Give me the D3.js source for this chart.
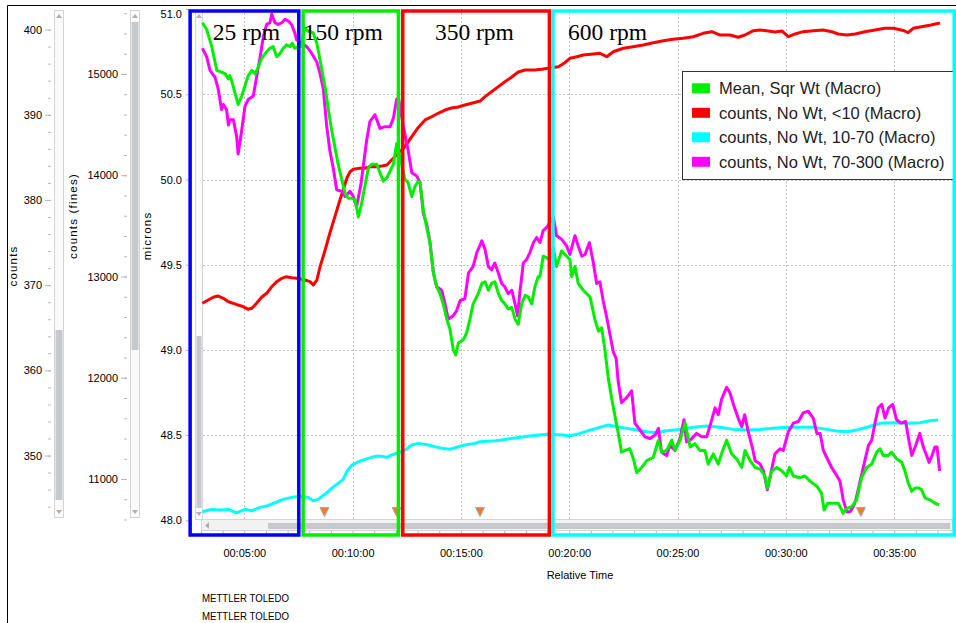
<!DOCTYPE html>
<html>
<head>
<meta charset="utf-8">
<script src="https://cdn.jsdelivr.net/npm/d3@7"></script>
<style>
  body { margin: 0; background: #fff; }
  svg { display: block; font-family: "Liberation Sans", Arial, sans-serif; }
  .axis text { font-size: 11px; fill: #000; }
  .axis line { stroke: #b8b8b8; }
  .axis path { display: none; }
</style>
</head>
<body>
<div id="chart"></div>
<script>
// time in seconds
const meanSqrWt = [[184,50.92],[196,50.88],[210,50.78],[224,50.64],[237,50.63],[247,50.62],[256,50.59],[260,50.61],[265,50.58],[274,50.51],[283,50.44],[293,50.49],[302,50.55],[311,50.61],[321,50.64],[330,50.62],[339,50.66],[348,50.71],[362,50.75],[371,50.77],[380,50.78],[390,50.72],[399,50.74],[408,50.77],[417,50.79],[427,50.78],[433,50.80],[440,50.77],[450,50.78],[457,50.78],[467,50.89],[477,50.87],[491,50.86],[501,50.80],[510,50.70],[524,50.54],[533,50.41],[542,50.29],[551,50.19],[560,50.09],[570,50.00],[579,49.92],[588,49.89],[598,49.89],[607,49.88],[616,49.78],[625,49.86],[634,49.96],[644,50.07],[653,50.09],[667,50.09],[676,50.04],[685,49.99],[695,50.01],[704,50.05],[713,50.09],[722,50.21],[734,50.11],[745,50.00],[754,49.98],[764,49.90],[773,49.96],[782,49.99],[787,49.98],[796,49.82],[805,49.72],[814,49.63],[824,49.45],[833,49.37],[842,49.33],[851,49.27],[861,49.18],[870,49.12],[879,49.00],[886,48.97],[893,49.04],[907,49.06],[916,49.10],[925,49.18],[934,49.27],[948,49.33],[958,49.39],[967,49.40],[976,49.35],[985,49.39],[994,49.40],[1004,49.33],[1013,49.29],[1022,49.27],[1031,49.24],[1041,49.25],[1050,49.18],[1059,49.15],[1068,49.27],[1078,49.32],[1087,49.31],[1096,49.27],[1105,49.37],[1114,49.43],[1119,49.43],[1128,49.55],[1138,49.54],[1147,49.53],[1156,49.60],[1165,49.49],[1179,49.58],[1193,49.55],[1202,49.53],[1207,49.43],[1216,49.49],[1225,49.39],[1239,49.35],[1258,49.31],[1271,49.18],[1281,49.11],[1290,49.13],[1299,49.00],[1308,48.84],[1318,48.71],[1327,48.61],[1336,48.51],[1345,48.40],[1355,48.41],[1368,48.42],[1378,48.36],[1387,48.28],[1401,48.31],[1415,48.35],[1433,48.37],[1447,48.47],[1456,48.40],[1470,48.41],[1484,48.47],[1493,48.41],[1507,48.47],[1521,48.57],[1535,48.43],[1548,48.45],[1562,48.41],[1576,48.41],[1585,48.33],[1599,48.39],[1613,48.33],[1622,48.39],[1636,48.47],[1650,48.39],[1664,48.36],[1678,48.31],[1687,48.41],[1701,48.35],[1715,48.31],[1729,48.30],[1742,48.26],[1749,48.19],[1761,48.29],[1775,48.31],[1789,48.29],[1802,48.26],[1810,48.31],[1821,48.26],[1839,48.25],[1853,48.26],[1867,48.23],[1886,48.20],[1899,48.16],[1906,48.06],[1916,48.10],[1932,48.10],[1945,48.10],[1955,48.06],[1959,48.04],[1969,48.07],[1983,48.08],[1996,48.12],[2010,48.25],[2024,48.31],[2038,48.33],[2052,48.40],[2061,48.42],[2070,48.38],[2084,48.38],[2093,48.40],[2107,48.36],[2121,48.34],[2130,48.29],[2139,48.22],[2149,48.17],[2158,48.19],[2167,48.19],[2176,48.18],[2186,48.13],[2199,48.12],[2213,48.10],[2225,48.09]];

const countsUnder10 = [[184,12735],[200,12768],[214,12795],[228,12807],[242,12785],[256,12751],[270,12735],[283,12718],[297,12702],[311,12676],[321,12686],[334,12735],[348,12795],[362,12834],[376,12899],[390,12949],[404,12982],[417,12998],[431,12988],[445,12982],[468,12965],[482,12949],[491,12916],[501,12965],[510,13097],[524,13262],[537,13427],[551,13591],[565,13756],[574,13854],[584,13970],[593,14035],[602,14059],[620,14069],[634,14069],[648,14084],[667,14084],[681,14091],[695,14101],[708,14151],[727,14217],[740,14266],[745,14282],[764,14381],[782,14472],[801,14546],[819,14578],[837,14612],[856,14644],[874,14664],[893,14674],[911,14694],[930,14711],[953,14733],[967,14776],[985,14825],[1004,14875],[1022,14924],[1041,14970],[1059,15020],[1078,15040],[1105,15040],[1124,15046],[1142,15056],[1170,15072],[1188,15112],[1202,15155],[1221,15171],[1239,15188],[1267,15198],[1285,15205],[1304,15171],[1322,15220],[1350,15254],[1377,15270],[1405,15286],[1433,15309],[1461,15329],[1488,15343],[1516,15353],[1544,15368],[1571,15402],[1595,15418],[1618,15385],[1645,15385],[1668,15363],[1687,15385],[1710,15428],[1729,15435],[1752,15425],[1770,15415],[1789,15425],[1807,15368],[1821,15390],[1848,15418],[1876,15428],[1904,15435],[1927,15418],[1945,15395],[1969,15385],[1992,15395],[2019,15418],[2047,15435],[2075,15451],[2098,15451],[2125,15430],[2139,15408],[2153,15451],[2176,15467],[2202,15484],[2227,15504]];

const counts10to70 = [[184,343.40],[210,343.68],[233,343.60],[256,343.68],[279,343.28],[302,343.68],[321,343.52],[344,343.92],[362,344.07],[385,344.46],[408,344.86],[431,345.09],[445,345.16],[459,345.24],[477,345.09],[491,344.69],[505,344.86],[524,345.48],[542,346.15],[560,346.74],[574,347.20],[584,348.10],[598,348.88],[616,349.27],[634,349.55],[653,349.79],[671,349.94],[695,349.79],[708,350.06],[727,350.33],[745,350.64],[764,351.23],[782,351.43],[810,351.23],[828,351.03],[851,350.84],[870,350.73],[893,351.03],[911,351.23],[939,351.43],[953,351.62],[999,351.74],[1045,352.02],[1091,352.29],[1138,352.49],[1184,352.40],[1202,352.29],[1230,352.60],[1258,352.99],[1285,353.31],[1308,353.58],[1332,353.38],[1359,353.19],[1387,352.99],[1415,352.79],[1442,352.67],[1470,352.91],[1507,353.07],[1544,353.31],[1581,353.46],[1618,353.31],[1655,353.07],[1692,352.99],[1729,353.07],[1766,353.19],[1802,353.31],[1839,353.31],[1876,353.31],[1913,353.07],[1941,352.87],[1969,352.79],[1996,352.99],[2029,353.38],[2061,353.78],[2098,353.85],[2135,353.78],[2172,353.85],[2199,354.08],[2222,354.16]];

// 70-300 series has no axis of its own on screen; read against the microns grid
const counts70to300 = [[184,50.77],[196,50.72],[205,50.64],[219,50.60],[228,50.53],[237,50.41],[242,50.44],[251,50.41],[256,50.32],[260,50.35],[270,50.35],[279,50.25],[283,50.15],[293,50.29],[302,50.43],[311,50.47],[325,50.49],[334,50.60],[344,50.72],[353,50.84],[362,50.91],[371,50.92],[376,50.97],[385,50.92],[394,50.91],[404,50.92],[413,50.94],[422,50.93],[431,50.91],[440,50.86],[445,50.82],[457,50.80],[473,50.78],[487,50.74],[501,50.69],[510,50.62],[519,50.53],[528,50.32],[537,50.17],[547,50.06],[556,49.94],[570,49.93],[579,49.90],[593,49.93],[602,49.90],[611,49.84],[623,49.97],[639,50.23],[648,50.34],[662,50.38],[676,50.30],[690,50.31],[704,50.31],[713,50.36],[722,50.47],[727,50.48],[740,50.32],[754,50.17],[764,50.04],[778,50.02],[787,49.98],[796,49.80],[805,49.74],[814,49.64],[824,49.45],[833,49.37],[847,49.35],[856,49.27],[865,49.18],[879,49.20],[888,49.23],[898,49.29],[911,49.30],[921,49.45],[934,49.49],[944,49.57],[958,49.64],[967,49.59],[976,49.49],[985,49.47],[994,49.51],[1004,49.45],[1013,49.39],[1022,49.37],[1031,49.33],[1041,49.35],[1050,49.27],[1057,49.20],[1064,49.35],[1073,49.51],[1082,49.53],[1091,49.57],[1101,49.63],[1110,49.66],[1119,49.63],[1128,49.70],[1138,49.72],[1147,49.75],[1156,49.78],[1165,49.67],[1179,49.65],[1193,49.61],[1202,49.56],[1216,49.67],[1225,49.61],[1235,49.55],[1244,49.56],[1256,49.63],[1267,49.51],[1276,49.39],[1285,49.40],[1294,49.29],[1304,49.19],[1313,49.09],[1322,48.99],[1330,48.95],[1336,48.81],[1345,48.69],[1359,48.72],[1373,48.76],[1382,48.57],[1396,48.53],[1410,48.49],[1424,48.48],[1438,48.50],[1447,48.54],[1456,48.40],[1470,48.38],[1479,48.44],[1493,48.41],[1507,48.48],[1518,48.59],[1525,48.46],[1535,48.47],[1553,48.51],[1567,48.49],[1581,48.49],[1595,48.59],[1604,48.66],[1613,48.62],[1622,48.71],[1636,48.78],[1645,48.75],[1655,48.68],[1668,48.60],[1678,48.55],[1686,48.62],[1696,48.52],[1708,48.42],[1715,48.35],[1729,48.33],[1738,48.29],[1749,48.18],[1761,48.30],[1770,48.39],[1784,48.42],[1793,48.41],[1807,48.52],[1821,48.57],[1835,48.58],[1848,48.63],[1862,48.64],[1876,48.60],[1886,48.51],[1895,48.51],[1904,48.41],[1913,48.37],[1927,48.31],[1936,48.28],[1950,48.23],[1959,48.12],[1969,48.05],[1978,48.05],[1987,48.08],[1994,48.12],[2007,48.24],[2019,48.35],[2029,48.44],[2038,48.47],[2047,48.57],[2056,48.66],[2066,48.68],[2075,48.60],[2085,48.66],[2096,48.68],[2107,48.59],[2119,48.57],[2132,48.58],[2140,48.48],[2149,48.38],[2160,48.44],[2171,48.51],[2181,48.43],[2190,48.38],[2197,48.34],[2205,48.38],[2213,48.43],[2219,48.43],[2226,48.29]];

const seriesNames = ["Mean, Sqr Wt (Macro)", "counts, No Wt, <10 (Macro)", "counts, No Wt, 10-70 (Macro)", "counts, No Wt, 70-300 (Macro)"];
const seriesColors = ["#00ee00", "#ff0000", "#00ffff", "#ff00ff"];

const phaseLabels = ["25 rpm", "150 rpm", "350 rpm", "600 rpm"];
const phaseStart = [150, 463, 739, 1155];
const phaseEnd = [451, 727, 1145, 2267];
const phaseLabelAt = [213, 465, 828, 1197];
const phaseColors = ["#0000ff", "#00ee00", "#ff0000", "#00ffff"];

const eventMarks = [522, 722, 953, 2008];

const timeTicks = [300, 600, 900, 1200, 1500, 1800, 2100];
const micronTicks = [48.0, 48.5, 49.0, 49.5, 50.0, 50.5, 51.0];
const countTicks = [350, 360, 370, 380, 390, 400];
const fineTicks = [11000, 12000, 13000, 14000, 15000];

const width = 956, height = 623;
const svg = d3.select("#chart").append("svg").attr("width", width).attr("height", height);

const x = d3.scaleLinear().domain([171.8, 2263.1]).range([198, 953]);
const yMic = d3.scaleLinear().domain([48, 51]).range([520.3, 9.1]);
const yCnt = d3.scaleLinear().domain([342.4, 402.4]).range([520.3, 9.1]);
const yFine = d3.scaleLinear().domain([10592, 15641]).range([520.3, 9.1]);

const hms = (s) => {
  const p = (n) => String(n).padStart(2, "0");
  return `${p(Math.floor(s / 3600))}:${p(Math.floor(s / 60) % 60)}:${p(s % 60)}`;
};

// outer frame
svg.append("path").attr("d", "M7.5,623V5.5H956").attr("fill", "none").attr("stroke", "#000");

// scrollbars
function vScroll(x0, w, y0, y1, t0, t1) {
  const g = svg.append("g");
  g.append("rect").attr("x", x0 + 0.5).attr("y", y0 + 0.5).attr("width", w).attr("height", y1 - y0)
    .attr("fill", "#fafafa").attr("stroke", "#d4d4d4");
  g.append("rect").attr("x", x0 + 1.5).attr("y", t0).attr("width", w - 2).attr("height", t1 - t0).attr("fill", "#c5c9cd");
  const cx = x0 + 0.5 + w / 2;
  g.append("path").attr("d", `M${cx - 3},${y0 + 8}L${cx + 3},${y0 + 8}L${cx},${y0 + 4}Z`).attr("fill", "#b0b0b0");
  g.append("path").attr("d", `M${cx - 3},${y1 - 7}L${cx + 3},${y1 - 7}L${cx},${y1 - 3}Z`).attr("fill", "#b0b0b0");
}
vScroll(54, 9, 10, 517, 330, 500);
vScroll(130, 9, 10, 517, 22, 350);
vScroll(195, 7, 10, 519, 336, 508);

// grid
const grid = svg.append("g").attr("stroke", "#c4c4c4").attr("stroke-dasharray", "2,2");
grid.selectAll(".gx").data(timeTicks).join("line")
  .attr("x1", (d) => Math.round(x(d)) + 0.5).attr("x2", (d) => Math.round(x(d)) + 0.5)
  .attr("y1", 9).attr("y2", 519);
grid.selectAll(".gy").data(micronTicks.slice(1, -1)).join("line")
  .attr("x1", 203).attr("x2", 953)
  .attr("y1", (d) => Math.round(yMic(d)) + 0.5).attr("y2", (d) => Math.round(yMic(d)) + 0.5);

// left axes
svg.append("g").attr("class", "axis").attr("transform", "translate(51,0)")
  .call(d3.axisLeft(yCnt).tickValues(d3.range(344, 402, 2)).tickSize(3).tickFormat(""));
svg.append("g").attr("class", "axis").attr("transform", "translate(51,0)")
  .call(d3.axisLeft(yCnt).tickValues(countTicks).tickSize(6).tickPadding(3));

svg.append("g").attr("class", "axis").attr("transform", "translate(127,0)")
  .call(d3.axisLeft(yFine).tickValues(d3.range(10600, 15700, 200)).tickSize(3).tickFormat(""));
svg.append("g").attr("class", "axis").attr("transform", "translate(127,0)")
  .call(d3.axisLeft(yFine).tickValues(fineTicks).tickSize(6).tickPadding(3).tickFormat(d3.format("d")));

const micAxis = svg.append("g").attr("class", "axis").attr("transform", "translate(189,0)")
  .call(d3.axisLeft(yMic).tickValues(micronTicks).tickSize(3).tickPadding(4).tickFormat(d3.format(".1f")));
micAxis.selectAll(".tick").filter((d) => d === 51).select("text").attr("y", 5);

const axisTitle = (tx, ty, label) =>
  svg.append("text").attr("transform", `translate(${tx},${ty}) rotate(-90)`).attr("text-anchor", "middle")
    .attr("font-size", 11.5).attr("letter-spacing", 1.2).text(label);
axisTitle(17, 266, "counts");
axisTitle(77, 216, "counts (fines)");
axisTitle(151, 236, "microns");

// bottom axis
svg.append("g").attr("class", "axis").attr("transform", "translate(0,531)")
  .call(d3.axisBottom(x).tickValues(d3.range(180, 2262, 60)).tickSize(4).tickFormat(""));
svg.append("g").attr("class", "axis").attr("transform", "translate(0,536)")
  .call(d3.axisBottom(x).tickValues(timeTicks).tickSize(0).tickPadding(13).tickFormat(hms));
svg.append("text").attr("x", 580).attr("y", 579).attr("text-anchor", "middle").attr("font-size", 11).text("Relative Time");
svg.append("text").attr("x", 202).attr("y", 602).attr("font-size", 11).attr("textLength", 87).attr("lengthAdjust", "spacingAndGlyphs").text("METTLER TOLEDO");
svg.append("text").attr("x", 202).attr("y", 620).attr("font-size", 11).attr("textLength", 87).attr("lengthAdjust", "spacingAndGlyphs").text("METTLER TOLEDO");

// horizontal scrollbar
svg.append("rect").attr("x", 201.5).attr("y", 519.5).attr("width", 751).attr("height", 11).attr("fill", "#f2f2f2").attr("stroke", "#d4d4d4");
svg.append("rect").attr("x", 268).attr("y", 523).attr("width", 682).attr("height", 6).attr("fill", "#c5c9cd");
svg.append("path").attr("d", "M209,522L205,525.5L209,529Z").attr("fill", "#b0b0b0");

// series
const lineOf = (ys) => d3.line().x((d) => x(d[0])).y((d) => ys(d[1]));
const series = [
  { data: counts10to70, y: yCnt, color: seriesColors[2] },
  { data: countsUnder10, y: yFine, color: seriesColors[1] },
  { data: counts70to300, y: yMic, color: seriesColors[3] },
  { data: meanSqrWt, y: yMic, color: seriesColors[0] }
];
svg.append("g").selectAll("path").data(series).join("path")
  .attr("d", (s) => lineOf(s.y)(s.data))
  .attr("fill", "none").attr("stroke", (s) => s.color)
  .attr("stroke-width", 3).attr("stroke-linejoin", "round");

// event markers
svg.append("g").selectAll("path").data(eventMarks).join("path")
  .attr("d", (t) => `M${x(t) - 4.5},507.5L${x(t) + 4.5},507.5L${x(t)},516.5Z`)
  .attr("fill", "#f47a2c").attr("stroke", "#a8a8a8").attr("stroke-width", 1);

// phase boxes and labels
svg.append("g").selectAll("rect").data(phaseStart).join("rect")
  .attr("x", (d) => x(d)).attr("y", 11)
  .attr("width", (d, i) => x(phaseEnd[i]) - x(d)).attr("height", 524)
  .attr("fill", "none").attr("stroke", (d, i) => phaseColors[i]).attr("stroke-width", 3.5);

svg.append("g").selectAll("text").data(phaseLabels).join("text")
  .attr("x", (d, i) => x(phaseLabelAt[i])).attr("y", 40)
  .attr("font-family", "'Liberation Serif', 'Times New Roman', serif").attr("font-size", 23.5)
  .attr("fill", "#000").text((d) => d);

// legend
const legend = svg.append("g");
legend.append("rect").attr("x", 682.5).attr("y", 71.5).attr("width", 272).attr("height", 108)
  .attr("fill", "#fff").attr("stroke", "#333");
const items = legend.selectAll("g").data(seriesNames).join("g")
  .attr("transform", (d, i) => `translate(692,${88.3 + i * 24.5})`);
items.append("rect").attr("y", -5).attr("width", 18).attr("height", 10).attr("fill", (d, i) => seriesColors[i]);
items.append("text").attr("x", 27).attr("dy", "0.35em").attr("font-size", 16.5).attr("fill", "#222").text((d) => d);

// redraw cyan box right edge over legend
svg.append("line").attr("x1", x(phaseEnd[3])).attr("x2", x(phaseEnd[3])).attr("y1", 11).attr("y2", 535)
  .attr("stroke", phaseColors[3]).attr("stroke-width", 3.5);
</script>
</body>
</html>
